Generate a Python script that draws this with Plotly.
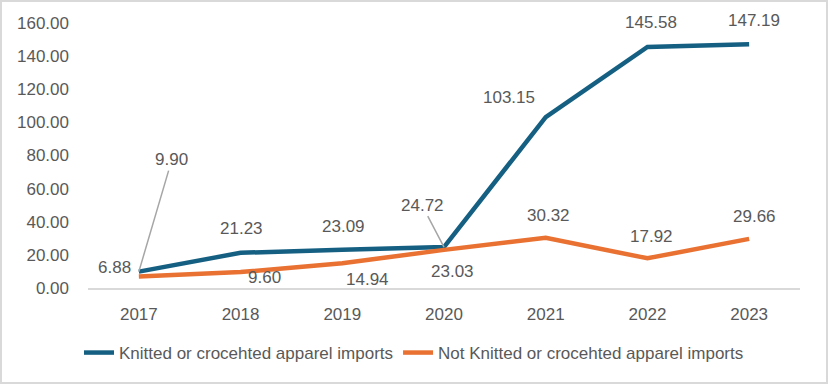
import plotly.graph_objects as go

years = ["2017", "2018", "2019", "2020", "2021", "2022", "2023"]
knitted = [9.90, 21.23, 23.09, 24.72, 103.15, 145.58, 147.19]
not_knitted = [6.88, 9.60, 14.94, 23.03, 30.32, 17.92, 29.66]
series_names = ["Knitted or crocehted apparel imports",
                "Not Knitted or crocehted apparel imports"]
y_ticks = [0, 20, 40, 60, 80, 100, 120, 140, 160]

# label placement styles (pixel offsets); leader=True draws a leader line
knit_offsets = [(33, -112, True), (1, 24, False), (1, 23, False), (-22, -42, True),
                (-37, 20, False), (4, 24, False), (5, 24, False)]
not_offsets = [(-24, 9, False), (24, -5, False), (25, -16, False), (8, -22, False),
               (3, 22, False), (4, 22, False), (5, 22, False)]

BLUE = "#156082"
ORANGE = "#E97132"
TEXT = "#595959"
FONT = "Liberation Sans, Arial, sans-serif"

fig = go.Figure()
fig.add_trace(go.Scatter(x=years, y=knitted, mode="lines", name=series_names[0],
                         line=dict(color=BLUE, width=4.5)))
fig.add_trace(go.Scatter(x=years, y=not_knitted, mode="lines", name=series_names[1],
                         line=dict(color=ORANGE, width=4.5)))

annotations = []
for vals, offs in ((knitted, knit_offsets), (not_knitted, not_offsets)):
    for i, (v, (dx, dy, leader)) in enumerate(zip(vals, offs)):
        if leader:
            annotations.append(dict(x=i, y=v, xref="x", yref="y", text=f"{v:.2f}",
                                    showarrow=True, arrowhead=0, arrowwidth=1.5,
                                    arrowcolor="#A6A6A6", ax=dx, ay=dy, standoff=0,
                                    font=dict(size=17, color=TEXT, family=FONT)))
        else:
            annotations.append(dict(x=i, y=v, xref="x", yref="y", text=f"{v:.2f}",
                                    showarrow=False, xshift=dx, yshift=dy,
                                    font=dict(size=17, color=TEXT, family=FONT)))

L, R, T, B = 88, 29, 23, 97
W, H = 829, 385
pw, ph = W - L - R, H - T - B

fig.update_layout(
    width=W, height=H,
    margin=dict(l=L, r=R, t=T, b=B),
    paper_bgcolor="white", plot_bgcolor="white",
    font=dict(family=FONT, size=17, color=TEXT),
    showlegend=True,
    legend=dict(orientation="h", x=(414 - L) / pw, xanchor="center",
                y=(H - B - 353) / ph, yanchor="middle",
                font=dict(size=17, color=TEXT, family=FONT),
                itemwidth=30, tracegroupgap=0),
    annotations=annotations,
    shapes=[dict(type="rect", xref="paper", yref="paper",
                 x0=(1 - L) / pw, x1=(827 - L) / pw,
                 y0=(H - B - 383) / ph, y1=(H - B - 1) / ph,
                 line=dict(color="#D9D9D9", width=2), layer="below")],
)
fig.update_xaxes(type="category", range=[-0.5, 6.5], showgrid=False, showline=True,
                 linecolor="#D9D9D9", linewidth=1.5, ticks="",
                 tickfont=dict(size=17, color=TEXT, family=FONT),
                 ticklabelstandoff=10, zeroline=False)
fig.update_yaxes(range=[0, 160], tickvals=y_ticks, tickformat=".2f", showgrid=False,
                 showline=False, zeroline=False, ticks="",
                 tickfont=dict(size=17, color=TEXT, family=FONT), ticklabelstandoff=18)

fig.write_html("out.html", config={"displayModeBar": False},
               post_script="document.body.style.margin='0';document.body.style.overflow='hidden';")
